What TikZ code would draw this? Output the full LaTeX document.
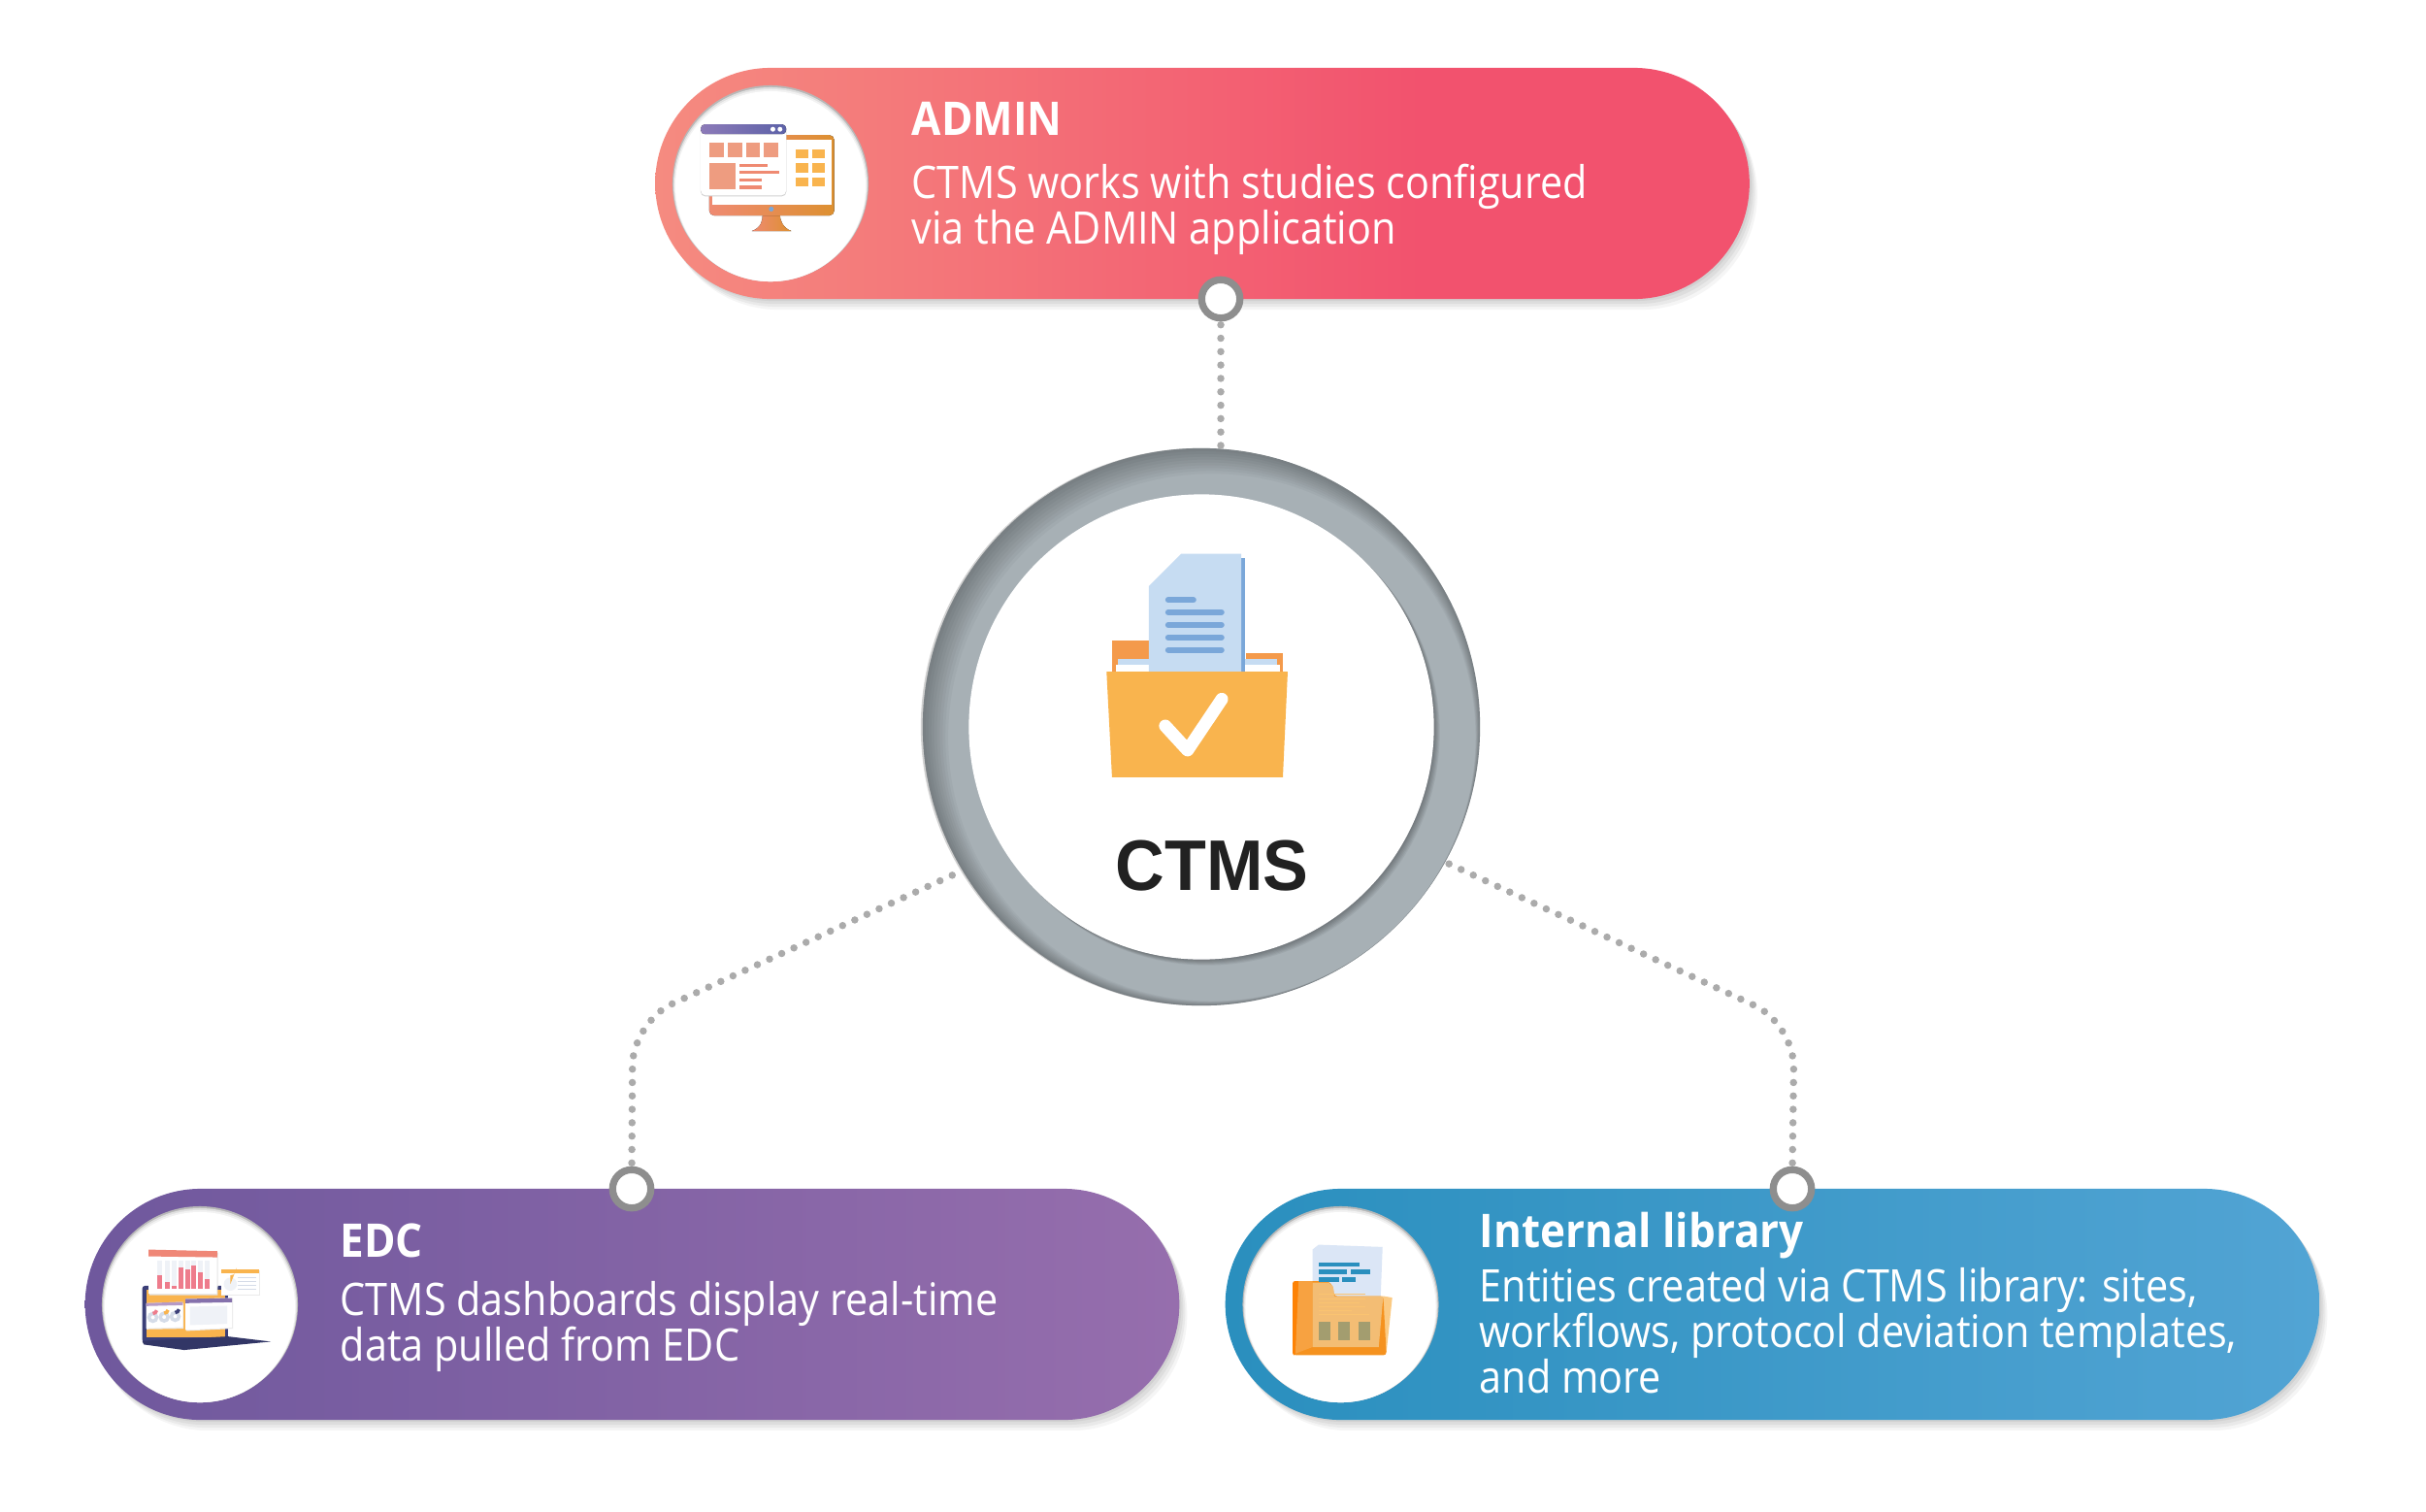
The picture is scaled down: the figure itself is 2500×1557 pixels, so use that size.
\documentclass[tikz,border=0pt]{standalone}
\usepackage{fontspec}
\setmainfont[FakeStretch=0.895]{Open Sans}
\newfontfamily\titlefont[FakeStretch=0.92]{Open Sans}
\newfontfamily\hubfont[FakeStretch=0.95]{Liberation Sans}
\usetikzlibrary{shapes.misc,shadows}

% Colours
\definecolor{adminL}{HTML}{F58B80}
\definecolor{adminR}{HTML}{F2526E}
\definecolor{edcL}{HTML}{6F589D}
\definecolor{edcR}{HTML}{966EAD}
\definecolor{libL}{HTML}{2A8FBE}
\definecolor{libR}{HTML}{52A4D4}
\definecolor{ringC}{HTML}{A7B0B5}
\definecolor{dotC}{HTML}{ABABAB}
\definecolor{knobC}{HTML}{8E8E8E}
\definecolor{folderY}{HTML}{F9B44E}
\definecolor{folderO}{HTML}{F49A4B}
\definecolor{docL}{HTML}{C6DCF2}
\definecolor{docD}{HTML}{7AA7D9}
\definecolor{salmon}{HTML}{EE9C80}
\definecolor{salmonD}{HTML}{EF8A72}
\definecolor{monO}{HTML}{DD9030}
\definecolor{barL}{HTML}{8C7AB8}
\definecolor{barR}{HTML}{5D62A8}
\definecolor{navy}{HTML}{3B3F78}
\definecolor{barP}{HTML}{EE7C8C}
\definecolor{paleB}{HTML}{EFF2F7}
\definecolor{greyB}{HTML}{D5DCE8}
\definecolor{sheetB}{HTML}{DBE6F6}
\definecolor{libO}{HTML}{F5921F}
\definecolor{libT}{HTML}{F3BD74}
\definecolor{libS}{HTML}{A39D6F}

\pgfdeclarehorizontalshading{adminfade}{100bp}{color(0bp)=(adminL); color(25bp)=(adminL); color(60bp)=(adminR); color(100bp)=(adminR)}

\tikzset{
  softshadow/.style={
    general shadow={fill=black,opacity=.05,shadow xshift=.02cm,shadow yshift=-.02cm},
    general shadow={fill=black,opacity=.05,shadow xshift=.04cm,shadow yshift=-.05cm},
    general shadow={fill=black,opacity=.05,shadow xshift=.06cm,shadow yshift=-.08cm},
    general shadow={fill=black,opacity=.04,shadow xshift=.08cm,shadow yshift=-.11cm}},
  pill/.style={rounded rectangle,minimum width=11.27cm,minimum height=2.38cm,inner sep=0pt,softshadow},
  hole/.style={circle,inner sep=0pt,fill=white,minimum size=#1},
  knob/.style={circle,inner sep=0pt,fill=white,draw=knobC,line width=.073cm,minimum size=.394cm,outer sep=0pt},
  link/.style={dotC,line width=.075cm,line cap=round,dash pattern=on 0pt off .138cm},
  title/.style={anchor=base west,inner sep=0pt,text=white,font=\titlefont\fontsize{13.6pt}{14pt}\selectfont\bfseries},
  body/.style={anchor=base west,inner sep=0pt,text=white,font=\fontsize{13.15pt}{13.37pt}\selectfont},
  zoomed/.style={x=.003333cm,y=-.003333cm},
}

\begin{document}
\begin{tikzpicture}[x=.01cm,y=-.01cm] % one unit is one pixel of the reference

    \useasboundingbox (0,0) rectangle (2500,1557);

    % Pills
    \node[pill,shading=adminfade] (adminpill) at (1239,189) {};
    \node[pill,left color=edcL,right color=edcR] (edcpill) at (651.5,1344) {};
    \node[pill,left color=libL,right color=libR] (libpill) at (1826.5,1344) {};

    % White circles of the pills, shaded along the top
    \foreach \cx/\cy/\nm in {794/189/adminhole,206/1344/edchole,1381.5/1344/libhole} {
        \fill[black!28] (\cx,\cy) circle (1.01cm);
        \fill[black!12] (\cx,\cy+1) circle (1cm);
        \fill[black!5] (\cx,\cy+2) circle (.99cm);
        \node[hole=1.96cm] (\nm) at (\cx,\cy+3) {};
    }

    % Ring
    \fill[black!18] (1236,749) circle (2.87cm);
    \node[circle,inner sep=0pt,minimum size=5.74cm,fill=ringC] (ctms) at (1238,749) {};
    \foreach \k in {1,...,9} {
        \fill[black,opacity=.03,even odd rule] (1238,749) circle (2.87cm) (1238+\k*1.2,749+\k*1.2) circle ({(287-\k*1.7)*.01cm});
    }
    \foreach \k in {1,...,6} {
        \fill[black,opacity=.055] (1238+\k,749+\k) circle (2.395cm);
    }
    \node[hole=4.79cm] (ctmsface) at (1238,749) {};

    % Connectors
    \node[knob] (adminknob) at (1258,308) {};
    \node[knob] (edcknob) at (651,1225) {};
    \node[knob] (libknob) at (1847,1225) {};
    \coordinate (edcbend) at (652,1053);
    \coordinate (libbend) at (1849,1055);
    \draw[link,shorten <=.07cm] (adminknob.south) -- (adminknob.south |- ctms.north);
    \draw[link,shorten <=.07cm,rounded corners=.45cm] (edcknob.north) -- (edcbend) -- (ctms.211);
    \draw[link,shorten <=.07cm,rounded corners=.45cm] (libknob.north) -- (libbend) -- (ctms.331);

    % Texts
    \node[title] (admintitle) at (939,139) {ADMIN};
    \node[body] (admintext1) at (939,204.5) {CTMS works with studies configured};
    \node[body] (admintext2) at (939,251.5) {via the ADMIN application};
    \node[title] (edctitle) at (350,1295) {EDC};
    \node[body] (edctext1) at (350,1355) {CTMS dashboards display real-time};
    \node[body] (edctext2) at (350,1402) {data pulled from EDC};
    \node[title] (libtitle) at (1524,1285) {Internal library};
    \node[body] (libtext1) at (1524,1341) {Entities created via CTMS library: sites,};
    \node[body] (libtext2) at (1524,1388) {workflows, protocol deviation templates,};
    \node[body] (libtext3) at (1524,1435) {and more};
    \node[anchor=base west,inner sep=0pt,text=black!87,font=\hubfont\fontsize{21pt}{22pt}\selectfont\bfseries] (ctmstitle) at (1149,917) {CTMS};

    % Hub icon
    \begin{scope}[shift={(1100,540)},zoomed]
        \fill[folderO] (138,362) rectangle (252,457);
        \fill[folderO] (552,401) rectangle (667,457);
        \fill[docL] (155,418) rectangle (650,457);
        \fill[white] (149,436) rectangle (657,457);
        \fill[docD] (538,105) rectangle (551,457);
        \fill[docL] (252,192) -- (352,92) -- (538,92) -- (538,457) -- (252,457) -- cycle;
        \draw[docD,line width=.06cm,line cap=round] (312,235) -- (390,235);
        \foreach \ly in {273,312,351,390} {
            \draw[docD,line width=.06cm,line cap=round] (312,\ly) -- (477,\ly);
        }
        \fill[folderY] (121,457) -- (682,457) -- (667,784) -- (138,784) -- cycle;
        \draw[white,line width=.13cm,line cap=round,line join=round] (303,625) -- (372,700) -- (478,542);
    \end{scope}

    % Admin icon
    \begin{scope}[shift={(660,50)},zoomed]
        \fill[left color=salmonD,right color=monO] (345,565) .. controls (375,555) and (378,530) .. (378,517) -- (432,517) .. controls (432,530) and (440,555) .. (467,565) -- cycle;
        \fill[left color=salmonD,right color=monO,rounded corners=.05cm] (213,268) rectangle (600,517);
        \fill[white] (222,282) rectangle (591,483);
        \fill[docD] (405,497) circle (.025cm);
        \fill[black!18,rounded corners=.05cm] (186,236) rectangle (452,458);
        \fill[white,rounded corners=.05cm] (187,235) rectangle (451,455);
        \fill[left color=barL,right color=barR,rounded corners=.04cm] (187,235) rectangle (451,265);
        \foreach \dx in {410,432} { \fill[white] (\dx,250) circle (.025cm); }
        \foreach \sx in {214,270,326,383} { \fill[salmon] (\sx,292) rectangle ++(45,45); }
        \fill[salmon] (214,356) rectangle (293,435);
        \fill[salmonD] (306,357) rectangle (395,367);
        \fill[salmonD] (306,379) rectangle (429,389);
        \fill[salmonD] (306,402) rectangle (376,412);
        \fill[salmonD] (306,425) rectangle (376,435);
        \foreach \fx in {482,533} { \foreach \fy in {312,356,400} {
            \fill[folderY] (\fx,\fy) rectangle ++(37,28);
        } }
    \end{scope}

    % EDC icon
    \begin{scope}[shift={(80,1220)},zoomed]
        \fill[navy,rounded corners=.03cm] (200,315) rectangle (465,490);
        \fill[folderY] (213,328) rectangle (458,475);
        \fill[navy!85!black] (200,486) -- (465,472) -- (598,488) -- (330,514) -- (205,497) -- cycle;
        \fill[black!10] (222,210) -- (435,212) -- (434,344) -- (222,344) -- cycle;
        \fill[white] (220,207) -- (432,210) -- (431,340) -- (220,340) -- cycle;
        \fill[salmonD!80!barP] (220,203) -- (432,208) -- (432,227) -- (220,224) -- cycle;
        \foreach \bx/\by in {247/283,269/303,291/314,313/258,335/265,353/252,373/272,393/295} {
            \fill[paleB] (\bx,238) rectangle ++(15,87);
            \fill[barP] (\bx,\by) rectangle (\bx+15,325);
        }
        \fill[black!8] (446,268) rectangle (564,346);
        \fill[white] (444,265) rectangle (562,343);
        \fill[folderY] (444,265) rectangle (562,276);
        \fill[paleB] (473,310) circle (.068cm);
        \fill[folderY] (473,310) -- (473,283) arc (90:-10:20) -- cycle;
        \foreach \ly in {290,302,314,326} { \draw[greyB,line width=.012cm] (497,\ly) -- (553,\ly); }
        \fill[black!8] (214,372) -- (328,370) -- (328,448) -- (214,450) -- cycle;
        \fill[white] (212,369) -- (326,365) -- (326,443) -- (212,447) -- cycle;
        \fill[edcR!70!white] (212,369) -- (326,365) -- (326,375) -- (212,378) -- cycle;
        \foreach \dx/\dy/\dc in {233/413/barP,268/412/folderY,302/410/navy} {
            \draw[greyB,line width=.035cm] (\dx,\dy) circle (.04cm);
            \draw[\dc,line width=.035cm] (\dx,\dy-12) arc (90:10:12);
        }
        \fill[black!8] (336,358) -- (481,354) -- (481,448) -- (336,455) -- cycle;
        \fill[white] (334,355) -- (478,353) -- (478,445) -- (334,452) -- cycle;
        \fill[edcL!85!white] (334,356) -- (478,353) -- (478,366) -- (334,369) -- cycle;
        \fill[paleB] (348,380) -- (463,377) -- (463,433) -- (348,437) -- cycle;
    \end{scope}

    % Library icon
    \begin{scope}[shift={(1260,1220)},zoomed]
        \fill[sheetB] (297,188) -- (495,195) -- (483,505) -- (278,505) -- (278,203) -- cycle;
        \fill[folderY!70!white] (497,347) -- (525,352) -- (507,520) -- (470,520) -- cycle;
        \fill[libO,rounded corners=.03cm] (217,301) -- (328,301) -- (342,318) -- (345,347) -- (497,347) -- (507,530) -- (217,530) -- cycle;
        \fill[orange!85!libO,rounded corners=.02cm] (217,301) -- (240,301) -- (225,530) -- (217,530) -- cycle;
        \fill[libO!85!white] (235,301) -- (278,301) -- (278,505) -- (225,525) -- cycle;
        \fill[libT] (278,305) -- (328,305) -- (342,318) -- (345,347) -- (497,347) -- (483,505) -- (278,505) -- cycle;
        \fill[libL] (297,242) rectangle (423,256);
        \fill[libL] (297,265) rectangle (386,279);
        \fill[libL] (398,265) rectangle (458,279);
        \fill[libL] (297,288) rectangle (361,302);
        \fill[libL] (369,288) rectangle (413,302);
        \foreach \ly/\lx in {342/441,355/441,367/425,379/441,391/401,403/453} {
            \draw[folderY!80!white,line width=.012cm] (297,\ly) -- (\lx,\ly);
        }
        \foreach \sx in {297,359,420} { \fill[libS] (\sx,428) rectangle ++(36,55); }
    \end{scope}

\end{tikzpicture}
\end{document}
